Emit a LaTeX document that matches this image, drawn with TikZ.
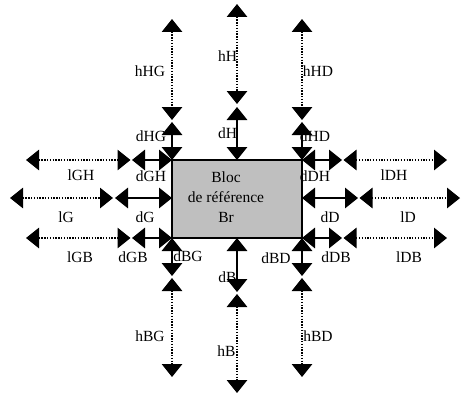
\documentclass[tikz,border=0pt]{standalone}
\usepackage{fontspec}
\setmainfont{Liberation Serif}
\usetikzlibrary{arrows.meta}
\begin{document}
\begin{tikzpicture}[x=1pt,y=-1pt,
  dist/.style={line width=1.6pt,{Triangle[length=13pt,width=20.5pt]}-{Triangle[length=13pt,width=20.5pt]}},
  gap/.style={line width=1.3pt,dash pattern=on 1.3pt off 1.5pt,{Triangle[length=13pt,width=20.5pt]}-{Triangle[length=13pt,width=20.5pt]}},
  lbl/.style={font=\fontsize{15.5}{18}\selectfont,inner sep=0pt}]
\useasboundingbox (0,0) rectangle (462,396);
\node[draw,line width=1.4pt,fill=black!25,minimum width=130pt,minimum height=78pt,inner sep=0pt] (br) at (237,199) {};
\node[font=\fontsize{15.5}{20}\selectfont,align=center,inner sep=0pt] (brt) at (226,197) {Bloc\\de référence\\Br};
% top column coordinates
\coordinate (hHGa) at (172,19);  \coordinate (hHGb) at (172,120);
\coordinate (dHGa) at (172,122); \coordinate (dHGb) at (172,160);
\coordinate (hHa) at (237,4);    \coordinate (hHb) at (237,104);
\coordinate (dHa) at (237,107);  \coordinate (dHb) at (237,160);
\coordinate (hHDa) at (302,19);  \coordinate (hHDb) at (302,120);
\coordinate (dHDa) at (302,122); \coordinate (dHDb) at (302,160);
% bottom column coordinates
\coordinate (dBGa) at (172,238); \coordinate (dBGb) at (172,276);
\coordinate (hBGa) at (172,278); \coordinate (hBGb) at (172,377);
\coordinate (dBa) at (237,238);  \coordinate (dBb) at (237,292);
\coordinate (hBa) at (237,294);  \coordinate (hBb) at (237,393);
\coordinate (dBDa) at (302,238); \coordinate (dBDb) at (302,276);
\coordinate (hBDa) at (302,278); \coordinate (hBDb) at (302,377);
% left rows
\coordinate (lGHa) at (26,160);  \coordinate (lGHb) at (130.5,160);
\coordinate (dGHa) at (132,160); \coordinate (dGHb) at (172,160);
\coordinate (lGa) at (10,198);   \coordinate (lGb) at (113,198);
\coordinate (dGa) at (115,198);  \coordinate (dGb) at (172,198);
\coordinate (lGBa) at (26,238);  \coordinate (lGBb) at (130.5,238);
\coordinate (dGBa) at (132,238); \coordinate (dGBb) at (172,238);
% right rows
\coordinate (dDHa) at (302,160); \coordinate (dDHb) at (342,160);
\coordinate (lDHa) at (343.5,160); \coordinate (lDHb) at (447,160);
\coordinate (dDa) at (302,198);  \coordinate (dDb) at (358,198);
\coordinate (lDa) at (359.5,198); \coordinate (lDb) at (460,198);
\coordinate (dDBa) at (302,238); \coordinate (dDBb) at (342,238);
\coordinate (lDBa) at (343.5,238); \coordinate (lDBb) at (447,238);
% connectors
\draw[gap] (hHGa) -- (hHGb);  \draw[dist] (dHGa) -- (dHGb);
\draw[gap] (hHa) -- (hHb);    \draw[dist] (dHa) -- (dHb);
\draw[gap] (hHDa) -- (hHDb);  \draw[dist] (dHDa) -- (dHDb);
\draw[dist] (dBGa) -- (dBGb); \draw[gap] (hBGa) -- (hBGb);
\draw[dist] (dBa) -- (dBb);   \draw[gap] (hBa) -- (hBb);
\draw[dist] (dBDa) -- (dBDb); \draw[gap] (hBDa) -- (hBDb);
\draw[gap] (lGHa) -- (lGHb);  \draw[dist] (dGHa) -- (dGHb);
\draw[gap] (lGa) -- (lGb);    \draw[dist] (dGa) -- (dGb);
\draw[gap] (lGBa) -- (lGBb);  \draw[dist] (dGBa) -- (dGBb);
\draw[dist] (dDHa) -- (dDHb); \draw[gap] (lDHa) -- (lDHb);
\draw[dist] (dDa) -- (dDb);   \draw[gap] (lDa) -- (lDb);
\draw[dist] (dDBa) -- (dDBb); \draw[gap] (lDBa) -- (lDBb);
% labels
\node[lbl] (thHG) at (150,71) {hHG};
\node[lbl] (thH) at (227.5,56) {hH};
\node[lbl] (thHD) at (318,71) {hHD};
\node[lbl] (tdHG) at (151,136) {dHG};
\node[lbl] (tdH) at (227.5,133) {dH};
\node[lbl] (tdHD) at (315,136) {dHD};
\node[lbl] (tlGH) at (81,175) {lGH};
\node[lbl] (tdGH) at (151,176) {dGH};
\node[lbl] (tdDH) at (315,176) {dDH};
\node[lbl] (tlDH) at (394,175) {lDH};
\node[lbl] (tlG) at (66,217) {lG};
\node[lbl] (tdG) at (145,217) {dG};
\node[lbl] (tdD) at (330,217) {dD};
\node[lbl] (tlD) at (408,217) {lD};
\node[lbl] (tlGB) at (80,257) {lGB};
\node[lbl] (tdGB) at (133,257) {dGB};
\node[lbl] (tdBG) at (188,256) {dBG};
\node[lbl] (tdBD) at (276,258) {dBD};
\node[lbl] (tdDB) at (336,257) {dDB};
\node[lbl] (tlDB) at (409,257) {lDB};
\node[lbl] (tdB) at (227.5,277) {dB};
\node[lbl] (thBG) at (150,336) {hBG};
\node[lbl] (thB) at (226.5,351) {hB};
\node[lbl] (thBD) at (318,336) {hBD};
\end{tikzpicture}
\end{document}
